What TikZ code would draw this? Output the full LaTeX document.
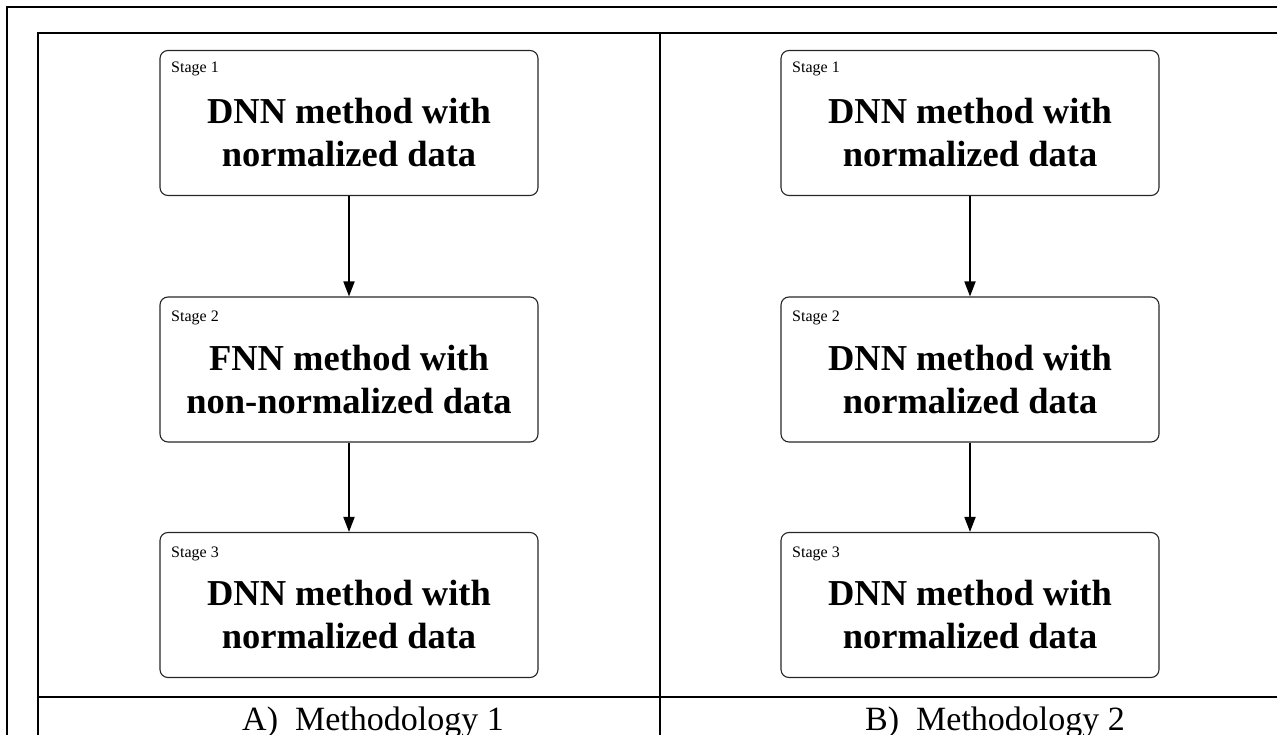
\documentclass[tikz,border=0pt]{standalone}
\usepackage{fontspec}
\setmainfont{Liberation Serif}
\usetikzlibrary{arrows.meta}
\begin{document}
\begin{tikzpicture}[x=1pt,y=-1pt,
  stagebox/.style={draw=black!85, line width=1.1pt, rounded corners=8pt, minimum width=378pt, minimum height=145pt, inner sep=0pt},
  stagelbl/.style={anchor=base west, inner sep=0pt, font=\fontsize{16}{18}\selectfont},
  maintext/.style={align=center, inner sep=0pt, font=\fontsize{36.5}{43}\selectfont\bfseries},
  caption/.style={anchor=base west, inner sep=0pt, font=\fontsize{34}{40}\selectfont},
  flow/.style={line width=1.8pt, -{Triangle[length=15pt,width=11pt]}},
  frame/.style={line width=2pt}]
\useasboundingbox (0,0) rectangle (1277,735);
% frame lines
\draw[frame] (7,735) -- (7,7) -- (1277,7);
\draw[frame] (38,735) -- (38,33) -- (1277,33);
\draw[frame] (38,697) -- (1277,697);
\draw[line width=1.5pt] (660,33) -- (660,735);
% left column
\node[stagebox] (a1) at (349,123) {};
\node[stagebox] (a2) at (349,369.5) {};
\node[stagebox] (a3) at (349,605) {};
\node[stagelbl] (a1l) at (171,73) {Stage 1};
\node[stagelbl] (a2l) at (171,322) {Stage 2};
\node[stagelbl] (a3l) at (171,557) {Stage 3};
\node[maintext] (a1t) at ([yshift=-10pt]a1.center) {DNN method with\\normalized data};
\node[maintext] (a2t) at ([yshift=-10pt]a2.center) {FNN method with\\non-normalized data};
\node[maintext] (a3t) at ([yshift=-10pt]a3.center) {DNN method with\\normalized data};
\draw[flow] (a1.south) -- (a2.north);
\draw[flow] (a2.south) -- (a3.north);
% right column
\node[stagebox] (b1) at (970,123) {};
\node[stagebox] (b2) at (970,369.5) {};
\node[stagebox] (b3) at (970,605) {};
\node[stagelbl] (b1l) at (792,73) {Stage 1};
\node[stagelbl] (b2l) at (792,322) {Stage 2};
\node[stagelbl] (b3l) at (792,557) {Stage 3};
\node[maintext] (b1t) at ([yshift=-10pt]b1.center) {DNN method with\\normalized data};
\node[maintext] (b2t) at ([yshift=-10pt]b2.center) {DNN method with\\normalized data};
\node[maintext] (b3t) at ([yshift=-10pt]b3.center) {DNN method with\\normalized data};
\draw[flow] (b1.south) -- (b2.north);
\draw[flow] (b2.south) -- (b3.north);
% captions
\node[caption] (capa) at (242,730) {A)\ \ Methodology 1};
\node[caption] (capb) at (865,730) {B)\ \ Methodology 2};
\end{tikzpicture}
\end{document}
